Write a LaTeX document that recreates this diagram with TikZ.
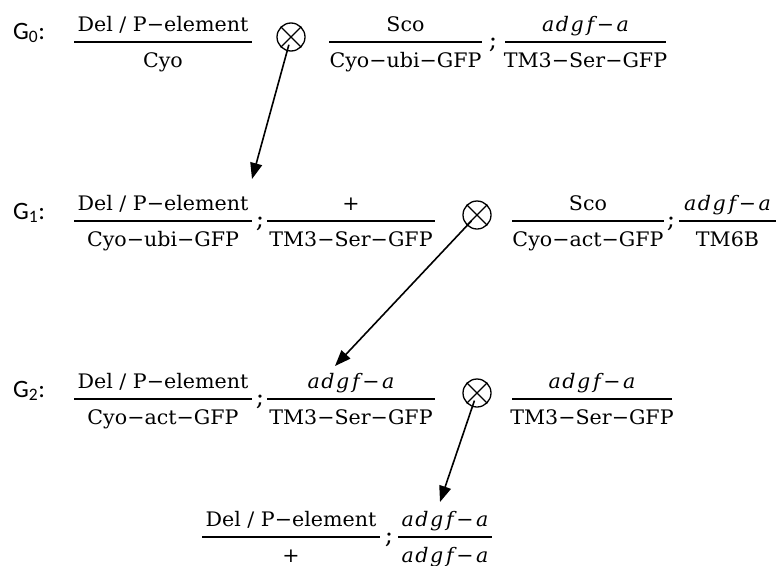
\documentclass[tikz,border=0pt]{standalone}
\usepackage{fontspec}
\setmainfont[FakeStretch=1.03]{DejaVu Serif}
\newfontfamily\glabfont{Carlito}
\usetikzlibrary{arrows.meta,calc}
\newcommand\adgf{{\itshape a\kern1.5pt d\kern1.5pt g\kern3pt f\kern2.5pt−\kern2.5pt a}}
\newcommand\gfrac[6]{%
  \coordinate (#1-l) at (#2,-#4);
  \coordinate (#1-r) at (#3,-#4);
  \node[gtxt, anchor=base] (#1-n) at ({(#2+#3)/2},{-#4+11}) {#5};
  \node[gtxt, anchor=base] (#1-d) at ({(#2+#3)/2},{-#4-25}) {#6};
  \draw[fbar] (#1-l) -- (#1-r);
}
\tikzset{
  gtxt/.style={inner sep=0pt, font=\fontsize{20}{24}\selectfont},
  semi/.style={inner sep=0pt, anchor=base, font=\fontsize{24}{28}\selectfont},
  glab/.style={inner sep=0pt, anchor=base west, font=\glabfont\fontsize{25}{30}\selectfont},
  fbar/.style={line width=2pt},
  cross/.style={circle, draw, line width=1.3pt, minimum size=28pt, inner sep=0pt},
  arr/.style={line width=1.6pt, -{Triangle[length=16pt,width=12pt]}, shorten <=8pt},
}
\begin{document}
\begin{tikzpicture}[x=1pt,y=1pt]
\useasboundingbox (0,0) rectangle (778,-565);
% labels
\node[glab] (g0) at (13,{-42+3}) {G\textsubscript{0}:};
\node[glab] (g1) at (13,{-221+2}) {G\textsubscript{1}:};
\node[glab] (g2) at (13,{-399+2}) {G\textsubscript{2}:};
% row G0
\gfrac{a1}{74}{252}{42}{Del / P−element}{Cyo}
\gfrac{a2}{329}{482}{42}{Sco}{Cyo−ubi−GFP}
\node[semi] (sa) at (493,{-42-6}) {;};
\gfrac{a3}{505}{666}{42}{\adgf}{TM3−Ser−GFP}
% row G1
\gfrac{b1}{74}{252}{221}{Del / P−element}{Cyo−ubi−GFP}
\node[semi] (sb1) at (260,{-221-6}) {;};
\gfrac{b2}{267}{435}{221}{+}{TM3−Ser−GFP}
\gfrac{b3}{512}{664}{221}{Sco}{Cyo−act−GFP}
\node[semi] (sb2) at (671,{-221-6}) {;};
\gfrac{b4}{679}{776}{221}{\adgf}{TM6B}
% row G2
\gfrac{c1}{74}{252}{399}{Del / P−element}{Cyo−act−GFP}
\node[semi] (sc) at (260,{-399-6}) {;};
\gfrac{c2}{267}{435}{399}{\adgf}{TM3−Ser−GFP}
\gfrac{c3}{512}{672}{399}{\adgf}{TM3−Ser−GFP}
% final row
\gfrac{d1}{202}{380}{537}{Del / P−element}{+}
\node[semi] (sd) at (389,{-537-6}) {;};
\gfrac{d2}{398}{492}{537}{\adgf}{\adgf}
% crosses
\foreach \n/\x/\y in {x0/291/37, x1/477/215, x2/477/393}{
  \node[cross] (\n) at (\x,-\y) {};
  \draw[line width=1.3pt] (\n.north west) -- (\n.south east) (\n.north east) -- (\n.south west);
}
% arrow tips
\coordinate (t1) at (252,-179);
\coordinate (t2) at (335,-366);
\coordinate (t3) at (440,-502);
\draw[arr] (x0.center) -- (t1);
\draw[arr] (x1.center) -- (t2);
\draw[arr] (x2.center) -- (t3);
\end{tikzpicture}
\end{document}
